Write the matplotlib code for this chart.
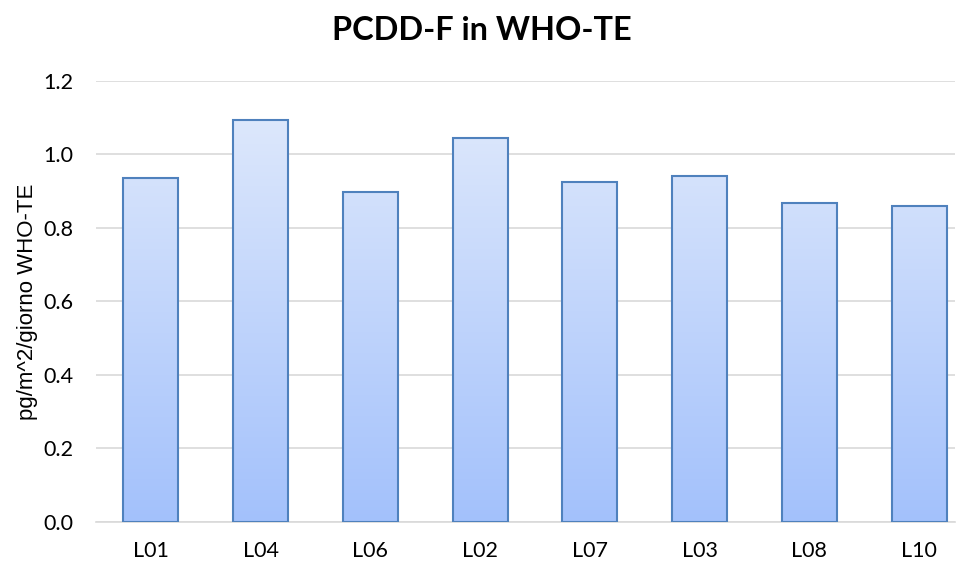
import matplotlib.pyplot as plt
import numpy as np
from matplotlib.colors import LinearSegmentedColormap

plt.rcParams['font.family'] = ['Lato', 'DejaVu Sans']

sites = ['L01', 'L04', 'L06', 'L02', 'L07', 'L03', 'L08', 'L10']
values = [0.935, 1.093, 0.898, 1.045, 0.925, 0.942, 0.869, 0.860]

fig = plt.figure(figsize=(9.64, 5.62), dpi=100)
ax = fig.add_axes([0.0996, 0.0712, 0.8911, 0.785])

grad = LinearSegmentedColormap.from_list('g', ['#a3c1fb', '#e2ebfc'])
x = np.arange(len(sites))
bars = ax.bar(x, values, width=0.5, facecolor='none', edgecolor='#4f81bd',
              linewidth=1.5, zorder=3)

# gradient fill clipped to each bar
img = np.linspace(0, 1, 256).reshape(-1, 1)
for b in bars:
    x0, w = b.get_x(), b.get_width()
    im = ax.imshow(img, cmap=grad, origin='lower', aspect='auto',
                   extent=[x0, x0 + w, 0, 1.2], zorder=2)
    im.set_clip_path(b)

# plot area is cut a little on the right in the original
ax.set_xlim(-0.5, 7.327)
ax.set_ylim(0, 1.2)
ticks = np.arange(0, 1.21, 0.2)
ax.set_yticks(ticks)
ax.set_yticklabels([f'{v:.1f}' for v in ticks])
ax.set_xticks(x)
ax.set_xticklabels(sites)
ax.yaxis.grid(True, color='#d9d9d9', linewidth=1.2, zorder=0)
ax.set_axisbelow(True)
for s in ['top', 'right', 'left']:
    ax.spines[s].set_visible(False)
ax.spines['bottom'].set_color('#d9d9d9')
ax.spines['bottom'].set_linewidth(1.2)
ax.tick_params(axis='both', length=0, labelsize=15.5, colors='#000000')
ax.tick_params(axis='x', pad=14)
ax.tick_params(axis='y', pad=16)

ax.set_ylabel('pg/m^2/giorno WHO-TE', fontsize=16, labelpad=4,
              family=['Liberation Sans', 'DejaVu Sans'])
fig.suptitle('PCDD-F in WHO-TE', fontsize=23.4, fontweight='bold', y=0.972)

fig.savefig('out.png', dpi=100)
